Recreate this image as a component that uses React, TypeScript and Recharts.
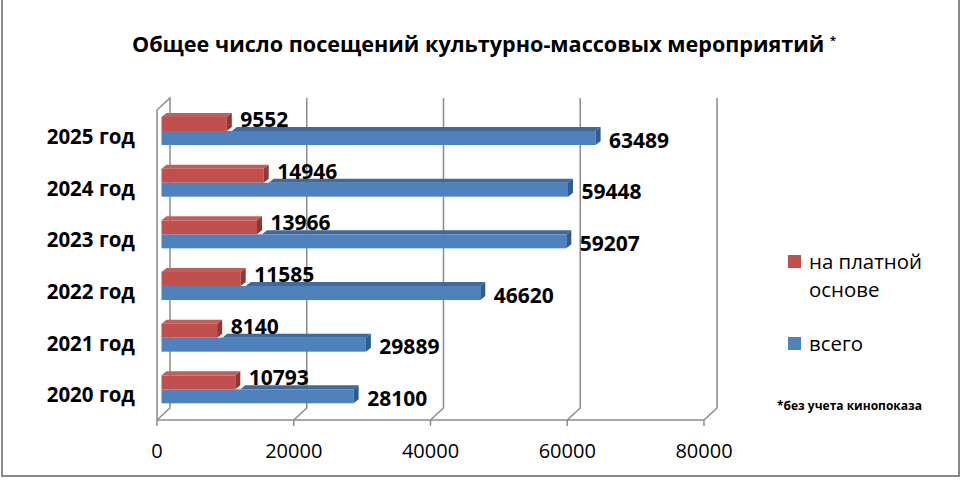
import { BarChart, Bar, XAxis, YAxis, CartesianGrid, LabelList } from 'recharts';

const years = ['2020 год', '2021 год', '2022 год', '2023 год', '2024 год', '2025 год'];
const paid = [10793, 8140, 11585, 13966, 14946, 9552];
const total = [28100, 29889, 46620, 59207, 59448, 63489];
const xTicks = [0, 20000, 40000, 60000, 80000];

const FONT = '"Open Sans", "DejaVu Sans", sans-serif';
const FRAME = '#898989';
const GRID = '#8c8c8c';

// 3D offsets of the Excel-style bars and walls
const SHIFT_X = 4.5;
const SHIFT_Y = -5;
const DEPTH_X = 5;
const DEPTH_Y = 4;
const WALL_X = 13;
const WALL_Y = 12;

const PLOT_LEFT = 157;
const PLOT_TOP = 110;

const chartData = years.map((year, i) => ({ year, paid: paid[i], total: total[i] }));

const series = [
  { key: 'paid', name: 'на платной основе', face: '#C0504D', top: '#C65C59', side: '#8E3734', labelDy: -9.5 },
  { key: 'total', name: 'всего', face: '#4F81BD', top: '#3E6AA0', side: '#2F5B8F', labelDy: -2.8 },
];

function Bar3D(props: any, s: typeof series[number]) {
  const { x, y, width, height, payload } = props;
  if (width == null || width <= 0) return null;
  const fx = x + SHIFT_X;
  const fy = y + SHIFT_Y;
  let topStart = fx;
  if (s.key === 'total') {
    // top face of the blue bar is hidden behind the red one
    topStart = fx + (width * payload.paid) / payload.total + DEPTH_X;
  }
  const right = fx + width;
  return (
    <g>
      <rect x={fx} y={fy} width={width} height={height} fill={s.face} />
      {topStart < right && (
        <path
          d={`M${topStart},${fy} L${right},${fy} L${right + DEPTH_X},${fy - DEPTH_Y} L${Math.min(topStart + DEPTH_X, right + DEPTH_X)},${fy - DEPTH_Y} Z`}
          fill={s.top}
        />
      )}
      <path
        d={`M${right},${fy} L${right + DEPTH_X},${fy - DEPTH_Y} L${right + DEPTH_X},${fy + height - DEPTH_Y} L${right},${fy + height} Z`}
        fill={s.side}
      />
    </g>
  );
}

function ValueLabel(props: any, s: typeof series[number]) {
  const { x, y, width, height, value } = props;
  const cy = y + height / 2 + s.labelDy;
  return (
    <text
      x={x + width + 18}
      y={cy + 7.5}
      fontFamily={FONT}
      fontSize={21}
      fontWeight={700}
      fill="#000"
      textAnchor="start"
    >
      {value}
    </text>
  );
}

function GridLine(props: any) {
  const { x1, y1, y2 } = props;
  const bx = x1 + WALL_X;
  let d = `M${x1},${y2} L${bx},${y2 - WALL_Y} L${bx},${y1 - WALL_Y}`;
  if (Math.abs(x1 - PLOT_LEFT) < 1) {
    d += ` L${x1},${y1} L${x1},${y2}`;
  }
  return <path key={props.key} d={d} fill="none" stroke={GRID} strokeWidth={1.5} />;
}

export default function App() {
  return (
    <div
      style={{
        position: 'absolute',
        left: 0,
        top: 0,
        width: 960,
        height: 480,
        background: '#fff',
        fontFamily: FONT,
      }}
    >
      <div
        style={{
          position: 'absolute',
          left: 1,
          top: -2,
          width: 955,
          height: 477,
          borderLeft: `2px solid ${FRAME}`,
          borderRight: `2px solid ${FRAME}`,
          borderBottom: `2px solid ${FRAME}`,
        }}
      />
      <div
        style={{
          position: 'absolute',
          left: 0,
          top: 29,
          width: 968,
          textAlign: 'center',
          fontSize: 21.6,
          fontWeight: 700,
          color: '#000',
          whiteSpace: 'nowrap',
        }}
      >
        Общее число посещений культурно-массовых мероприятий{' '}
        <span style={{ fontSize: 11, verticalAlign: 'super' }}>*</span>
      </div>

      <div style={{ position: 'absolute', left: 0, top: 0 }}>
        <BarChart
          width={960}
          height={480}
          data={chartData}
          layout="vertical"
          margin={{ top: PLOT_TOP, right: 256, left: 0, bottom: 20 }}
          barSize={14}
          barGap={0}
        >
          <CartesianGrid horizontal={false} vertical={GridLine} />
          <XAxis
            type="number"
            domain={[0, 80000]}
            ticks={xTicks}
            interval={0}
            height={40}
            tickSize={6}
            tickMargin={18}
            axisLine={{ stroke: GRID, strokeWidth: 1.5 }}
            tickLine={{ stroke: GRID, strokeWidth: 1.5 }}
            tick={{ fill: '#000', fontSize: 20, fontFamily: FONT }}
          />
          <YAxis
            type="category"
            dataKey="year"
            reversed
            width={PLOT_LEFT}
            axisLine={false}
            tickLine={false}
            tickSize={0}
            tickMargin={22}
            tick={{ fill: '#000', fontSize: 20.5, fontWeight: 700, fontFamily: FONT, dy: 1 }}
          />
          {series.map((s) => (
            <Bar
              key={s.key}
              dataKey={s.key}
              name={s.name}
              fill={s.face}
              isAnimationActive={false}
              shape={(p: any) => Bar3D(p, s)}
            >
              <LabelList dataKey={s.key} content={(p: any) => ValueLabel(p, s)} />
            </Bar>
          ))}
        </BarChart>
      </div>

      {series.map((s, i) => (
        <div
          key={s.key}
          style={{ position: 'absolute', left: 788, top: i === 0 ? 247 : 329, display: 'flex' }}
        >
          <div
            style={{
              width: 13,
              height: 13,
              marginTop: 8,
              background: s.face,
              flex: 'none',
            }}
          />
          <div
            style={{
              marginLeft: 8,
              width: 130,
              fontSize: 20.4,
              lineHeight: '28px',
              color: '#000',
            }}
          >
            {s.name}
          </div>
        </div>
      ))}

      <div
        style={{
          position: 'absolute',
          left: 777,
          top: 397,
          fontSize: 12,
          fontWeight: 700,
          color: '#000',
          whiteSpace: 'nowrap',
        }}
      >
        *без учета кинопоказа
      </div>
    </div>
  );
}
